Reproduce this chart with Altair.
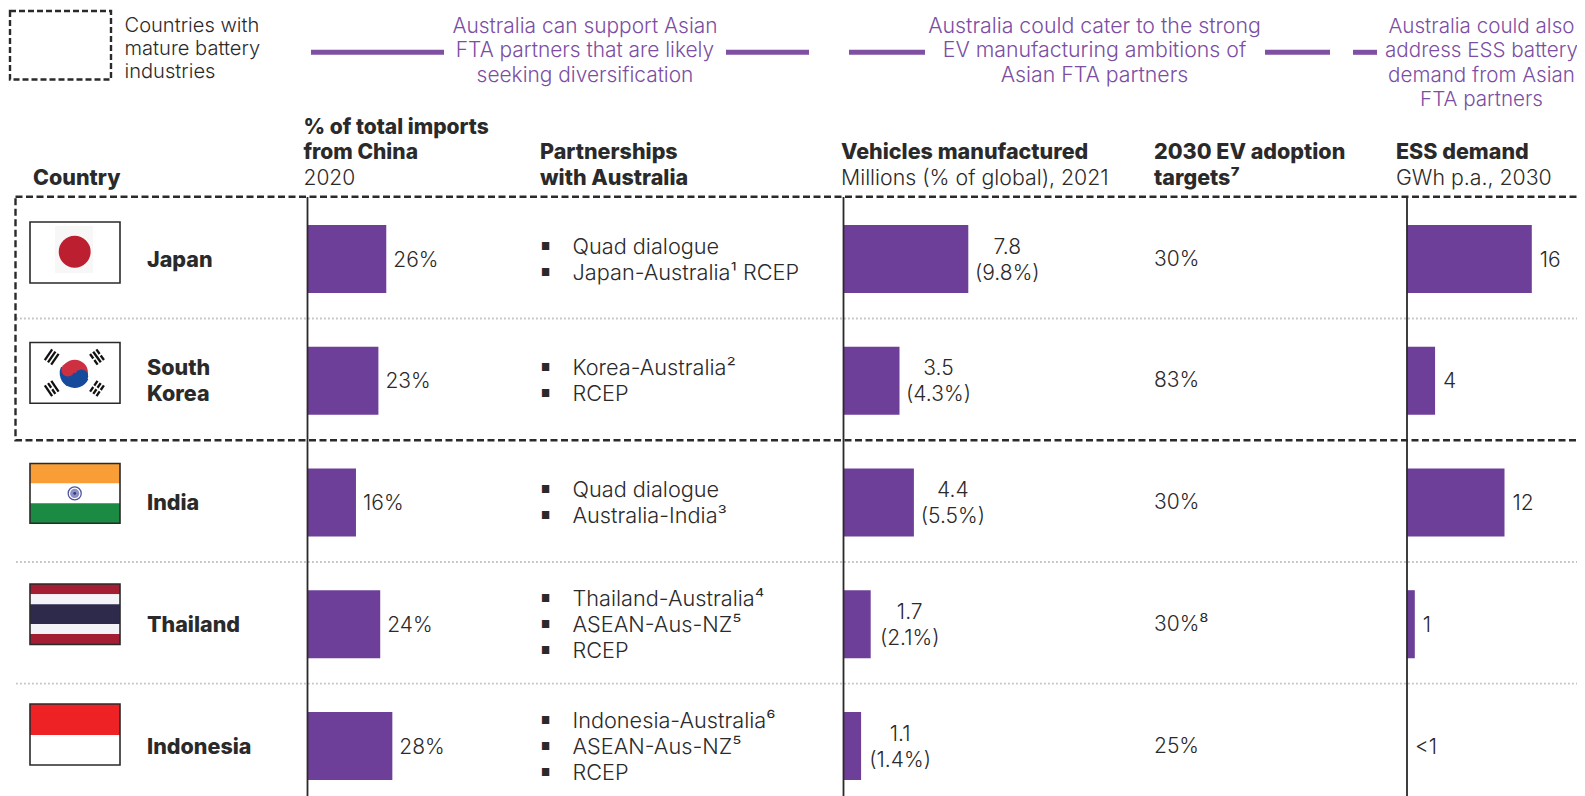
import math
import altair as alt
import pandas as pd

# ---------- data ----------
countries = ["Japan", "South Korea", "India", "Thailand", "Indonesia"]
country_lines = [["Japan"], ["South", "Korea"], ["India"], ["Thailand"], ["Indonesia"]]
china_share = [26, 23.4, 16, 24, 28]
china_labels = ["26%", "23%", "16%", "24%", "28%"]
partnerships = [
    ["Quad dialogue", "Japan-Australia¹ RCEP"],
    ["Korea-Australia²", "RCEP"],
    ["Quad dialogue", "Australia-India³"],
    ["Thailand-Australia⁴", "ASEAN-Aus-NZ⁵", "RCEP"],
    ["Indonesia-Australia⁶", "ASEAN-Aus-NZ⁵", "RCEP"],
]
vehicles = [7.8, 3.5, 4.4, 1.7, 1.1]
vehicle_labels = ["7.8", "3.5", "4.4", "1.7", "1.1"]
vehicle_shares = ["(9.8%)", "(4.3%)", "(5.5%)", "(2.1%)", "(1.4%)"]
ev_targets = ["30%", "83%", "30%", "30%⁸", "25%"]
ess = [16, 3.6, 12.5, 1, 0]
ess_labels = ["16", "4", "12", "1", "<1"]

legend_lines = ["Countries with", "mature battery", "industries"]
callout_1 = ["Australia can support Asian", "FTA partners that are likely", "seeking diversification"]
callout_2 = ["Australia could cater to the strong", "EV manufacturing ambitions of", "Asian FTA partners"]
callout_3 = ["Australia could also", "address ESS battery", "demand from Asian", "FTA partners"]

table = pd.DataFrame({
    "country": countries, "china": china_share, "china_label": china_labels,
    "vehicles": vehicles, "vehicle_label": vehicle_labels, "vehicle_share": vehicle_shares,
    "ev": ev_targets, "ess": ess, "ess_label": ess_labels,
})

# ---------- style ----------
FONT = "Inter"
INK = "#2b2a2b"
BAR = "#6e3f98"
LINE_PURPLE = "#7f4fa3"
TEXT_PURPLE = "#7b4ea3"
BODY = 300
BOLD = 800
SIZE = 21
BOLD_SIZE = 21.5
ITEM_SIZE = 21.7
OFF = 8  # page margin
TY = 1.7  # text baseline correction

one = pd.DataFrame({"a": [1]})
yscale = alt.Scale(domain=countries, range=[225 - OFF, 780 - OFF], paddingInner=0.441, paddingOuter=0)
Y = alt.Y("country:N", scale=yscale, axis=None)
layers = []


def rect(x0, y0, x1, y1, fill, **kw):
    layers.append(alt.Chart(one).mark_rect(fill=fill, **kw).encode(
        x=alt.value(x0 - OFF), x2=alt.value(x1 - OFF), y=alt.value(y0 - OFF), y2=alt.value(y1 - OFF)))


def rule(x0, y0, x1, y1, color=INK, width=2, **kw):
    layers.append(alt.Chart(one).mark_rule(color=color, strokeWidth=width, **kw).encode(
        x=alt.value(x0 - OFF), x2=alt.value(x1 - OFF), y=alt.value(y0 - OFF), y2=alt.value(y1 - OFF)))


def disc(cx, cy, r, color):
    layers.append(alt.Chart(one).mark_circle(size=math.pi * r * r, color=color, opacity=1).encode(
        x=alt.value(cx - OFF), y=alt.value(cy - OFF)))


def txt(s, x, y, size=SIZE, weight=BODY, color=INK, align="left"):
    layers.append(alt.Chart(one).mark_text(
        font=FONT, fontSize=size, fontWeight=weight, color=color, align=align, baseline="middle"
    ).encode(x=alt.value(x - OFF), y=alt.value(y + TY - OFF), text=alt.value(s)))


def bold(s, x, y):
    txt(s, x, y, size=BOLD_SIZE, weight=BOLD)


def cell(field_or_value, x, dy=0, size=SIZE, weight=BODY, data=None):
    d = table if data is None else data
    layers.append(alt.Chart(d).mark_text(
        font=FONT, fontSize=size, fontWeight=weight, color=INK, align="left", baseline="middle", dy=dy + TY
    ).encode(x=alt.value(x - OFF), y=Y, text=alt.Text(field_or_value)))


# ---------- legend and call-outs ----------
rect(10, 11, 111, 79.5, "#ffffff", fillOpacity=0, stroke=INK, strokeWidth=2.4, strokeDash=[6, 3])
for line, y in zip(legend_lines, [24.3, 47.5, 70.7]):
    txt(line, 124.5, y, size=20.1)

for seg in [(311, 444), (726, 809), (849, 925), (1265, 1330), (1353, 1377)]:
    rule(seg[0], 52.3, seg[1], 52.3, color=LINE_PURPLE, width=5)
for lines, cx, size in [(callout_1, 585, 20.9), (callout_2, 1094.5, 21.3), (callout_3, 1481.5, 20.6)]:
    for i, line in enumerate(lines):
        txt(line, cx, 25 + 24.5 * i, size=size, color=TEXT_PURPLE, align="center")

# ---------- headers ----------
bold("Country", 33, 177)
txt("% of total imports", 303.5, 126, size=SIZE, weight=BOLD)
txt("from China", 303.5, 151.5, size=SIZE, weight=BOLD)
txt("2020", 303.5, 177)
bold("Partnerships", 540, 151.5)
bold("with Australia", 540, 177)
bold("Vehicles manufactured", 841, 151.5)
txt("Millions (% of global), 2021", 841, 177, size=21.3)
bold("2030 EV adoption", 1154, 151.5)
bold("targets⁷", 1154, 177)
bold("ESS demand", 1396, 151.5)
txt("GWh p.a., 2030", 1396, 177, size=21.3)

# ---------- bars with their value labels ----------
X1, X3, X5 = 307.5, 843.5, 1407


def xscale(start, per_unit):
    return alt.Scale(domain=[0, 100], range=[start - OFF, start - OFF + per_unit * 100])


for field, start, k in [("china", X1, 3.03), ("vehicles", X3, 16), ("ess", X5, 7.8)]:
    bars = table if field != "ess" else table[table["ess"] > 0]
    layers.append(alt.Chart(bars).mark_bar(color=BAR).encode(
        x=alt.X(f"{field}:Q", scale=xscale(start, k), axis=None), y=Y))

for field, label, start, k, dx in [("china", "china_label", X1, 3.03, 7), ("ess", "ess_label", X5, 7.8, 8)]:
    layers.append(alt.Chart(table).mark_text(
        font=FONT, fontSize=SIZE, fontWeight=BODY, color=INK, align="left", baseline="middle", dx=dx, dy=TY
    ).encode(x=alt.X(f"{field}:Q", scale=xscale(start, k), axis=None), y=Y, text=f"{label}:N"))

for label, dy in [("vehicle_label", -13), ("vehicle_share", 13)]:
    layers.append(alt.Chart(table).mark_text(
        font=FONT, fontSize=SIZE, fontWeight=BODY, color=INK, align="center", baseline="middle", dx=39, dy=dy + TY
    ).encode(x=alt.X("vehicles:Q", scale=xscale(X3, 16), axis=None), y=Y, text=f"{label}:N"))

# ---------- table text ----------
cell("ev:N", 1154, dy=-1)
for c, lines in zip(countries, country_lines):
    d = pd.DataFrame({"country": [c] * len(lines), "line": lines})
    for i in range(len(lines)):
        cell("line:N", 147, dy=(i - (len(lines) - 1) / 2) * 26, size=BOLD_SIZE, weight=BOLD, data=d.iloc[[i]])
for c, items in zip(countries, partnerships):
    for i, item in enumerate(items):
        d = pd.DataFrame({"country": [c], "item": [item], "b": ["■"]})
        dy = (i - (len(items) - 1) / 2) * 26 - 1
        cell("b:N", 541, dy=dy, size=10, weight=400, data=d)
        cell("item:N", 572.5, dy=dy, size=ITEM_SIZE, data=d)

# ---------- rules ----------
for y in [318.5, 562, 683.7]:
    rule(16, y, 1600, y, color="#c4c4c4", width=1.8, strokeDash=[1.8, 2.2])
rect(15.5, 196.7, 1640, 440.2, "#ffffff", fillOpacity=0, stroke=INK, strokeWidth=2.4, strokeDash=[7, 3.5])
for x in [X1, X3, X5]:
    rule(x, 197, x, 800, width=1.8)

# ---------- flags ----------
FX0, FX1, FCX = 30, 120, 74.7
# Japan
rect(FX0, 222, FX1, 283, "#ffffff")
rect(55, 226, 93, 273, "#f8f7f7")
disc(FCX, 251.7, 18, "#bc1f2f")
rect(FX0, 222, FX1, 283, "#ffffff", fillOpacity=0, stroke=INK, strokeWidth=1.6)
# South Korea
kcy = 373
rect(FX0, 342.5, FX1, 403.3, "#ffffff")
disc(FCX, kcy, 15, "#cd3040")
tilt = math.radians(25)
layers.append(alt.Chart(one).mark_arc(color="#164a9b", outerRadius=15, innerRadius=0).encode(
    x=alt.value(FCX - OFF), y=alt.value(kcy - OFF),
    theta=alt.value(math.pi / 2 + tilt), theta2=alt.value(3 * math.pi / 2 + tilt)))
disc(FCX - 7.5 * math.cos(tilt), kcy - 7.5 * math.sin(tilt), 7.5, "#cd3040")
disc(FCX + 7.5 * math.cos(tilt), kcy + 7.5 * math.sin(tilt), 7.5, "#164a9b")
for cx, cy, pattern in [(51.7, 357, "sss"), (97, 357, "bsb"), (51.7, 388.5, "sbs"), (97, 388.5, "bbb")]:
    rx, ry = cx - FCX, cy - kcy
    norm = math.hypot(rx, ry)
    rx, ry = rx / norm, ry / norm
    tx, ty = -ry, rx
    for off, p in zip([-3.9, 0, 3.9], pattern):
        mx, my = cx + rx * off, cy + ry * off
        if p == "s":
            rule(mx - tx * 6.5, my - ty * 6.5, mx + tx * 6.5, my + ty * 6.5, color="#111111", width=2.3)
        else:
            rule(mx - tx * 6.5, my - ty * 6.5, mx - tx * 0.9, my - ty * 0.9, color="#111111", width=2.3)
            rule(mx + tx * 0.9, my + ty * 0.9, mx + tx * 6.5, my + ty * 6.5, color="#111111", width=2.3)
rect(FX0, 342.5, FX1, 403.3, "#ffffff", fillOpacity=0, stroke=INK, strokeWidth=1.6)
# India
rect(FX0, 463.5, FX1, 483.5, "#f99d36")
rect(FX0, 483.5, FX1, 503.3, "#ffffff")
rect(FX0, 503.3, FX1, 523.3, "#1b8a43")
layers.append(alt.Chart(one).mark_point(size=170, shape="circle", stroke="#4f55a0", strokeWidth=1.3, filled=False, opacity=1).encode(
    x=alt.value(FCX - OFF), y=alt.value(493.4 - OFF)))
disc(FCX, 493.4, 5.2, "#8d90c4")
disc(FCX, 493.4, 1.6, "#34397f")
rect(FX0, 463.5, FX1, 523.3, "#ffffff", fillOpacity=0, stroke=INK, strokeWidth=1.6)
# Thailand
rect(FX0, 584, FX1, 594.3, "#a31e33")
rect(FX0, 594.3, FX1, 604.3, "#f4f4f8")
rect(FX0, 604.3, FX1, 624, "#2d2a4c")
rect(FX0, 624, FX1, 634, "#f4f4f8")
rect(FX0, 634, FX1, 644.5, "#a31e33")
rect(FX0, 584, FX1, 644.5, "#ffffff", fillOpacity=0, stroke=INK, strokeWidth=1.6)
# Indonesia
rect(FX0, 704, FX1, 735, "#ee2124")
rect(FX0, 735, FX1, 765, "#ffffff")
rect(FX0, 704, FX1, 765, "#ffffff", fillOpacity=0, stroke=INK, strokeWidth=1.6)

chart = alt.layer(*layers).resolve_scale(x="independent").properties(
    width=1569, height=788, padding=0,
    autosize=alt.AutoSizeParams(type="none"),
).configure_view(stroke=None)

chart.save("out.html", embed_options={"renderer": "svg", "actions": False})
